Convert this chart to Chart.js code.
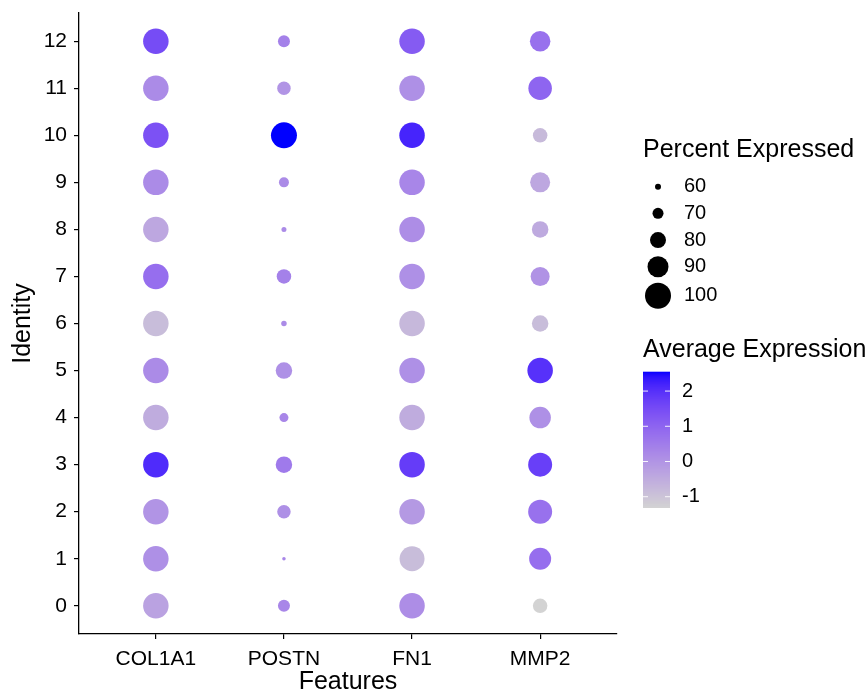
<!DOCTYPE html>
<html>
<head>
<meta charset="utf-8">
<script src="https://cdn.jsdelivr.net/npm/chart.js@4.4.1/dist/chart.umd.min.js"></script>
<style>
  html, body { margin: 0; padding: 0; background: #fff; }
</style>
</head>
<body>
<canvas id="dotPlot" width="868" height="697"></canvas>
<script>
// genes (x) and clusters (y)
const features = ["COL1A1", "POSTN", "FN1", "MMP2"];
const clusters = [0, 1, 2, 3, 4, 5, 6, 7, 8, 9, 10, 11, 12];

// percent expressed, clusters 0..12
const pctCOL1A1 = [99, 99, 99, 99, 99, 99, 99, 99, 99, 99, 99, 99, 99];
const pctPOSTN  = [72, 55, 75, 81, 66, 81, 59, 77, 58, 68, 100, 75, 72];
const pctFN1    = [99, 98, 99, 99, 99, 99, 99, 99, 99, 99, 99, 99, 99];
const pctMMP2   = [77, 92, 96, 96, 91, 99, 81, 86, 81, 88, 77, 95, 89];

// average (scaled) expression, clusters 0..12
const avgCOL1A1 = [-0.3, 0.1, 0.0, 2.1, -0.5, 0.2, -0.85, 0.8, -0.4, 0.2, 1.4, 0.2, 1.5];
const avgPOSTN  = [0.3, 0.3, 0.1, 0.55, 0.3, 0.1, 0.2, 0.4, 0.2, 0.2, 2.55, 0.0, 0.4];
const avgFN1    = [0.15, -0.85, -0.1, 1.8, -0.5, 0.1, -0.75, 0.1, 0.15, 0.3, 2.2, 0.1, 1.2];
const avgMMP2   = [-1.32, 0.8, 0.75, 1.75, 0.1, 2.0, -0.85, 0.05, -0.45, -0.4, -0.8, 1.0, 0.75];

// legend breaks
const sizeBreaks = [60, 70, 80, 90, 100];
const colorBreaks = [2, 1, 0, -1];
const colorLimits = [-1.32, 2.55];

const pctAll = [pctCOL1A1, pctPOSTN, pctFN1, pctMMP2];
const avgAll = [avgCOL1A1, avgPOSTN, avgFN1, avgMMP2];

const FONT = '"Liberation Sans", Arial, sans-serif';
Chart.defaults.font.family = FONT;
Chart.defaults.color = '#000';

// dot size: radius grows linearly with percent
const MAX_R = 13, SIZE_FLOOR = 48;
function radiusFor(p) {
    return MAX_R * (p - SIZE_FLOOR) / (100 - SIZE_FLOOR);
}

// lightgrey -> blue, interpolated in CIELAB like ggplot
function toLin(c) { c /= 255; return c <= 0.04045 ? c / 12.92 : Math.pow((c + 0.055) / 1.055, 2.4); }
function toSrgb(c) {
    c = c <= 0.0031308 ? 12.92 * c : 1.055 * Math.pow(c, 1 / 2.4) - 0.055;
    return Math.round(Math.max(0, Math.min(1, c)) * 255);
}
function rgbToLab(rgb) {
    const R = toLin(rgb[0]), G = toLin(rgb[1]), B = toLin(rgb[2]);
    const X = (0.4124 * R + 0.3576 * G + 0.1805 * B) / 0.95047;
    const Y = 0.2126 * R + 0.7152 * G + 0.0722 * B;
    const Z = (0.0193 * R + 0.1192 * G + 0.9505 * B) / 1.08883;
    const f = t => t > 0.008856 ? Math.cbrt(t) : 7.787 * t + 16 / 116;
    const fx = f(X), fy = f(Y), fz = f(Z);
    return [116 * fy - 16, 500 * (fx - fy), 200 * (fy - fz)];
}
function labToRgb(lab) {
    const fy = (lab[0] + 16) / 116, fx = fy + lab[1] / 500, fz = fy - lab[2] / 200;
    const g = t => t > 0.206893 ? t * t * t : (t - 16 / 116) / 7.787;
    const X = g(fx) * 0.95047, Y = g(fy), Z = g(fz) * 1.08883;
    const R = 3.2406 * X - 1.5372 * Y - 0.4986 * Z;
    const G = -0.9689 * X + 1.8758 * Y + 0.0415 * Z;
    const B = 0.0557 * X - 0.2040 * Y + 1.0570 * Z;
    return [toSrgb(R), toSrgb(G), toSrgb(B)];
}
const labLow = rgbToLab([211, 211, 211]);
const labHigh = rgbToLab([0, 0, 255]);
function expColor(v) {
    let t = (v - colorLimits[0]) / (colorLimits[1] - colorLimits[0]);
    t = Math.max(0, Math.min(1, t));
    const lab = labLow.map((l, i) => l + (labHigh[i] - l) * t);
    const c = labToRgb(lab);
    return 'rgb(' + c.join(',') + ')';
}

// legends on the right
const legendPlugin = {
    id: 'seuratLegends',
    afterDraw(chart) {
        const ctx = chart.ctx;
        ctx.save();
        ctx.fillStyle = '#000';
        ctx.textAlign = 'left';
        ctx.textBaseline = 'middle';

        ctx.font = '25px ' + FONT;
        ctx.fillText('Percent Expressed', 643, 150);
        ctx.font = '20px ' + FONT;
        let y = 173.3;
        sizeBreaks.forEach(p => {
            const r = radiusFor(p);
            const h = Math.max(26.7, 2 * r + 5.3);
            const cy = y + h / 2;
            ctx.fillStyle = '#000';
            ctx.beginPath();
            ctx.arc(658, cy, r, 0, Math.PI * 2);
            ctx.fill();
            ctx.fillText(String(p), 684, cy);
            y += h;
        });

        ctx.font = '25px ' + FONT;
        ctx.fillText('Average Expression', 643, 350);
        const top = 371.7, bottom = 508, left = 643, w = 27;
        const lo = colorLimits[0], hi = colorLimits[1];
        for (let py = top; py < bottom; py += 1) {
            const v = hi - (py + 0.5 - top) / (bottom - top) * (hi - lo);
            ctx.fillStyle = expColor(v);
            ctx.fillRect(left, py, w, Math.min(1.5, bottom - py));
        }
        ctx.font = '20px ' + FONT;
        colorBreaks.forEach(v => {
            const ty = top + (hi - v) / (hi - lo) * (bottom - top);
            ctx.strokeStyle = 'rgba(255,255,255,0.9)';
            ctx.lineWidth = 1;
            ctx.beginPath();
            ctx.moveTo(left, ty); ctx.lineTo(left + 5, ty);
            ctx.moveTo(left + w - 5, ty); ctx.lineTo(left + w, ty);
            ctx.stroke();
            ctx.fillStyle = '#000';
            ctx.fillText(String(v), 682, ty);
        });
        ctx.restore();
    }
};

const datasets = features.map((g, gi) => ({
    label: g,
    data: clusters.map((c, ci) => ({ x: gi, y: c, r: radiusFor(pctAll[gi][ci]) })),
    backgroundColor: clusters.map((c, ci) => expColor(avgAll[gi][ci])),
    borderWidth: 0,
    hoverRadius: 0
}));

new Chart(document.getElementById('dotPlot').getContext('2d'), {
    type: 'bubble',
    data: { datasets: datasets },
    options: {
        responsive: false,
        animation: false,
        devicePixelRatio: 1,
        events: [],
        layout: { padding: { top: 8.5, right: 251, bottom: 0, left: 0 } },
        plugins: { legend: { display: false }, tooltip: { enabled: false } },
        scales: {
            x: {
                type: 'linear',
                min: -0.6,
                max: 3.6,
                afterBuildTicks: s => { s.ticks = features.map((f, i) => ({ value: i })); },
                afterFit: s => { s.height = 63; s.paddingLeft = 0; s.paddingRight = 0; },
                ticks: {
                    callback: v => features[v],
                    font: { size: 21 },
                    color: '#000',
                    padding: 8,
                    maxRotation: 0,
                    autoSkip: false
                },
                grid: { drawOnChartArea: false, drawTicks: true, tickLength: 5, color: '#000', lineWidth: 1.2 },
                border: { display: true, color: '#000', width: 1.3 },
                title: { display: true, text: 'Features', font: { size: 25 }, color: '#000', padding: { top: 0, bottom: 0 } }
            },
            y: {
                type: 'linear',
                min: -0.6,
                max: 12.6,
                afterBuildTicks: s => { s.ticks = clusters.map(c => ({ value: c })); },
                afterFit: s => { s.width = 79; s.paddingTop = 0; s.paddingBottom = 0; },
                ticks: {
                    callback: v => String(v),
                    font: { size: 21 },
                    color: '#000',
                    padding: 7,
                    autoSkip: false
                },
                grid: { drawOnChartArea: false, drawTicks: true, tickLength: 5, color: '#000', lineWidth: 1.2 },
                border: { display: true, color: '#000', width: 1.3 },
                title: { display: true, text: 'Identity', font: { size: 25 }, color: '#000', padding: { top: 8, bottom: 0 } }
            }
        }
    },
    plugins: [legendPlugin]
});
</script>
</body>
</html>
